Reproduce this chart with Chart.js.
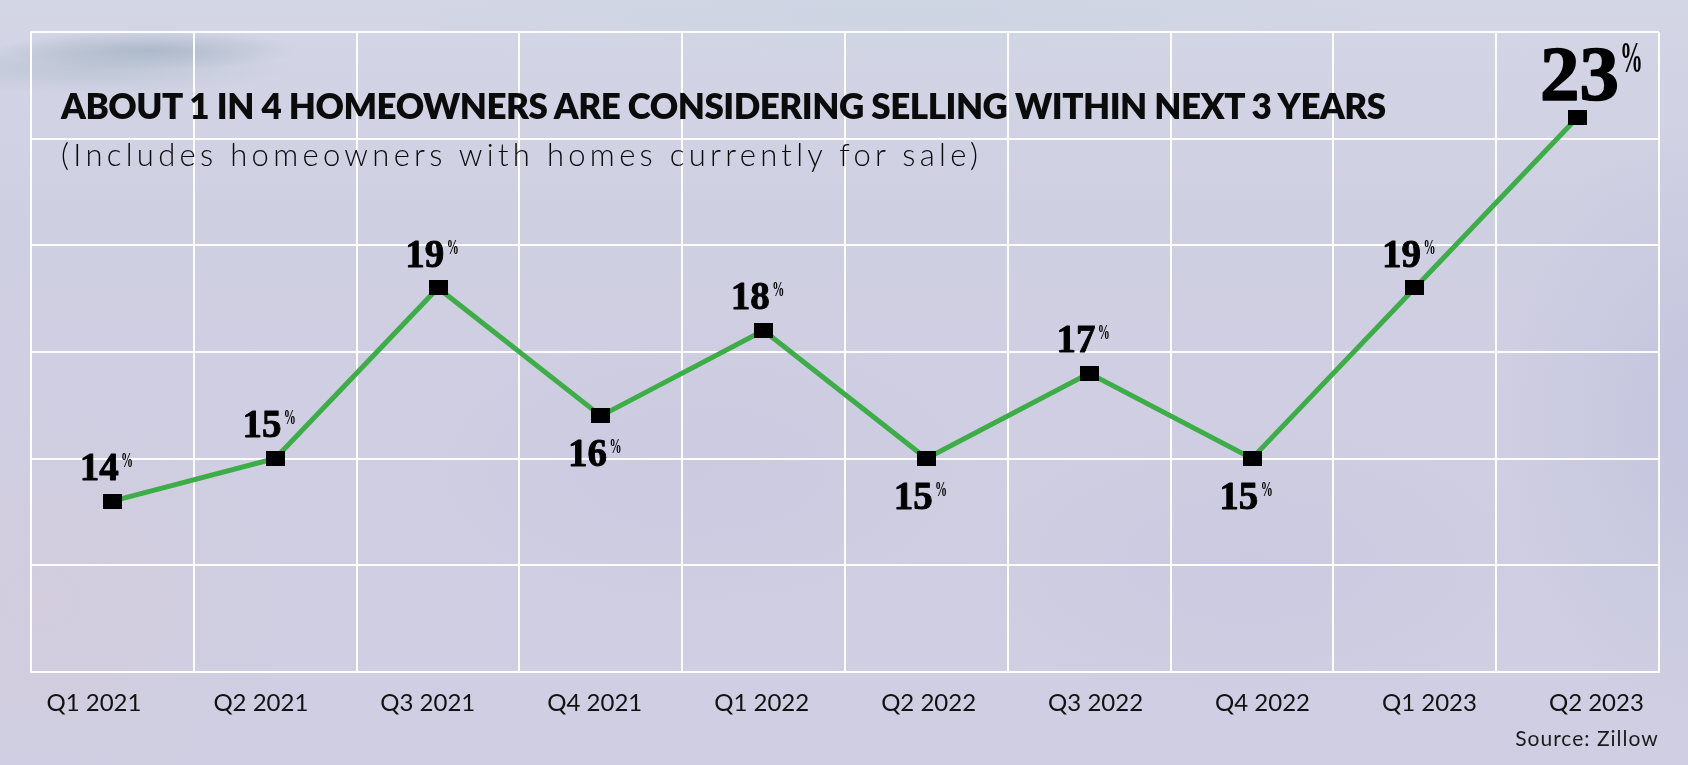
<!DOCTYPE html>
<html>
<head>
<meta charset="utf-8">
<script src="https://cdn.jsdelivr.net/npm/chart.js@4.4.0/dist/chart.umd.min.js"></script>
<style>
  html, body { margin: 0; padding: 0; }
  body {
    width: 1688px; height: 765px; overflow: hidden; position: relative;
    background:
      radial-gradient(ellipse 150px 20px at 150px 50px, rgba(140,160,178,0.5), rgba(140,160,178,0) 100%),
      radial-gradient(ellipse 200px 26px at 90px 68px, rgba(160,176,192,0.4), rgba(160,176,192,0) 100%),
      radial-gradient(ellipse 500px 50px at 900px 15px, rgba(200,212,224,0.5), rgba(200,212,224,0) 100%),
      radial-gradient(ellipse 200px 300px at 1700px 420px, rgba(184,188,218,0.5), rgba(184,188,218,0) 100%),
      radial-gradient(ellipse 260px 200px at 40px 600px, rgba(214,204,218,0.55), rgba(214,204,218,0) 100%),
      radial-gradient(ellipse 300px 150px at 700px 470px, rgba(196,196,222,0.4), rgba(196,196,222,0) 100%),
      radial-gradient(ellipse 300px 150px at 1250px 560px, rgba(196,196,222,0.4), rgba(196,196,222,0) 100%),
      linear-gradient(to bottom, rgba(212,216,230,0.8) 0px, rgba(208,210,227,0.4) 200px, rgba(206,205,224,0) 360px),
      #cfcee2;
  }
  #chart { position: absolute; left: 0; top: 0; }
  .txt { position: absolute; white-space: nowrap; color: #0b0b0b; font-family: Lato, "Open Sans", sans-serif; }
  #title { left: 61px; top: 88px; font-size: 35px; line-height: 35px; font-weight: 800; letter-spacing: -0.5px; }
  #subtitle { left: 61px; top: 139.2px; font-size: 31px; line-height: 31px; font-weight: 300; letter-spacing: 4.3px; }
  #source { right: 29.3px; top: 727.4px; font-size: 21px; line-height: 21px; font-weight: 400; letter-spacing: 1px; color: #1a1a1a; }
</style>
</head>
<body>
<canvas id="chart" width="1688" height="765"></canvas>
<div class="txt" id="title">ABOUT 1 IN 4 HOMEOWNERS ARE CONSIDERING SELLING WITHIN NEXT 3 YEARS</div>
<div class="txt" id="subtitle">(Includes homeowners with homes currently for sale)</div>
<div class="txt" id="source">Source: Zillow</div>
<script>
// ---- data ----
const categories = ['Q1 2021', 'Q2 2021', 'Q3 2021', 'Q4 2021', 'Q1 2022', 'Q2 2022', 'Q3 2022', 'Q4 2022', 'Q1 2023', 'Q2 2023'];
const shareConsideringSelling = [14, 15, 19, 16, 18, 15, 17, 15, 19, 23];
const yMin = 10;
const yMax = 25;
const yStep = 2.5;

// ---- styles ----
const GREEN = '#3dad47';
const GRID = 'rgba(255,255,255,0.95)';

// rectangular marker (wider than tall)
const marker = document.createElement('canvas');
marker.width = 19; marker.height = 15;
(function () { const m = marker.getContext('2d'); m.fillStyle = '#000'; m.fillRect(0, 0, 19, 15); })();

const valueLabels = {
  id: 'valueLabels',
  afterDatasetsDraw(chart) {
    const ctx = chart.ctx;
    const values = chart.data.datasets[0].data;
    const pts = chart.getDatasetMeta(0).data;
    ctx.save();
    ctx.fillStyle = '#000';
    ctx.strokeStyle = '#000';
    ctx.lineJoin = 'round';
    ctx.textBaseline = 'alphabetic';
    ctx.textAlign = 'left';
    pts.forEach((pt, i) => {
      const v = values[i];
      const isLast = i === values.length - 1;
      const prev = values[i - 1], next = values[i + 1];
      const below = prev !== undefined && next !== undefined && v < prev && v < next;
      const numSize = isLast ? 79 : 39;
      const pctSize = isLast ? 44 : 22;
      const pctScale = isLast ? 0.52 : 0.55;
      const numFont = `700 ${numSize}px "Liberation Serif", "DejaVu Serif", serif`;
      const pctFont = `700 ${pctSize}px "Liberation Serif", "DejaVu Serif", serif`;
      const num = String(v);
      ctx.font = numFont;
      const numW = ctx.measureText(num).width;
      const digitH = numSize * 0.676;
      ctx.font = pctFont;
      const pctW = ctx.measureText('%').width * pctScale;
      const gap = isLast ? 1 : 2.4;
      const x0 = isLast ? pt.x + 2 - numW / 2 : pt.x - 6 - (numW + gap + pctW) / 2;
      const baseline = isLast ? pt.y - 17.5 : (below ? pt.y + 50 : pt.y - 21.4);
      ctx.font = numFont;
      ctx.lineWidth = isLast ? 1.6 : 0.9;
      ctx.fillText(num, x0, baseline);
      ctx.strokeText(num, x0, baseline);
      const pctTop = baseline - digitH - (isLast ? 5 : 1.5);
      const pctH = pctSize * 0.69;
      ctx.save();
      ctx.translate(x0 + numW + gap, pctTop + pctH);
      ctx.scale(pctScale, 1);
      ctx.font = pctFont;
      ctx.fillText('%', 0, 0);
      ctx.restore();
    });
    ctx.restore();
  }
};

new Chart(document.getElementById('chart'), {
  type: 'line',
  data: {
    labels: categories,
    datasets: [{
      data: shareConsideringSelling,
      borderColor: GREEN,
      borderWidth: 5,
      tension: 0,
      fill: false,
      pointStyle: marker,
      pointRadius: 9,
      pointHoverRadius: 9,
      pointBackgroundColor: '#000',
      pointBorderWidth: 0
    }]
  },
  options: {
    responsive: false,
    animation: false,
    events: [],
    layout: { padding: { left: 31, right: 29, top: 32, bottom: 31 } },
    plugins: { legend: { display: false }, tooltip: { enabled: false }, title: { display: false } },
    scales: {
      x: {
        type: 'category',
        offset: true,
        grid: { display: true, offset: true, color: GRID, lineWidth: 2, drawTicks: false },
        border: { display: true, color: GRID, width: 2 },
        ticks: { display: false }
      },
      xl: {
        type: 'linear',
        position: 'bottom',
        min: -0.377,
        max: 9.375,
        bounds: 'data',
        grid: { display: false, drawTicks: false },
        border: { display: false },
        afterBuildTicks: (s) => { s.ticks = categories.map((c, i) => ({ value: i })); },
        ticks: {
          autoSkip: false,
          maxRotation: 0,
          padding: 16.7,
          color: '#111',
          font: { family: 'Lato', size: 24, weight: '400' },
          callback: (v) => categories[v]
        }
      },
      y: {
        min: yMin,
        max: yMax,
        grid: { color: GRID, lineWidth: 2, drawTicks: false },
        border: { display: true, color: GRID, width: 2 },
        ticks: { display: false, stepSize: yStep }
      }
    }
  },
  plugins: [valueLabels]
});
</script>
</body>
</html>
